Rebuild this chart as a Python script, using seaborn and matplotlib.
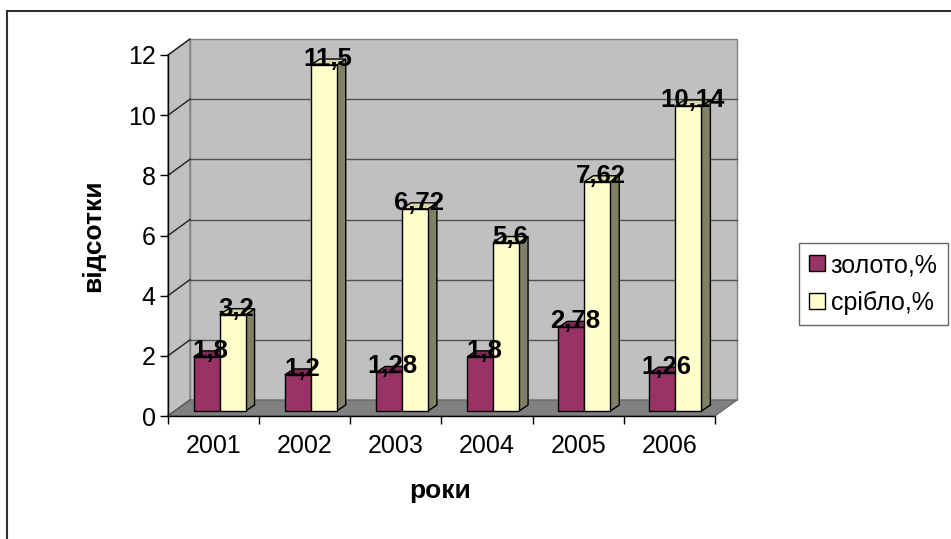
import numpy as np
import pandas as pd
import matplotlib
matplotlib.use("Agg")
import matplotlib.pyplot as plt
import seaborn as sns
from matplotlib.patches import Polygon, Patch, Rectangle
from matplotlib.colors import to_rgba

# data
years = ["2001", "2002", "2003", "2004", "2005", "2006"]
gold = [1.8, 1.2, 1.28, 1.8, 2.78, 1.26]
silver = [3.2, 11.5, 6.72, 5.6, 7.62, 10.14]
series = ["золото,%", "срібло,%"]

front_colors = ["#993366", "#FFFFCC"]
top_colors = ["#7A2952", "#D9D9AD"]
side_colors = ["#4D1A33", "#808066"]

df = pd.DataFrame({
    "рік": years * 2,
    "ряд": [series[0]] * len(years) + [series[1]] * len(years),
    "value": gold + silver,
})

plt.rcParams["font.family"] = ["Liberation Sans", "DejaVu Sans"]

W, H = 951, 539
fig = plt.figure(figsize=(W / 100, H / 100), dpi=100)
ax = fig.add_axes([168 / W, 1 - 416 / H, 547 / W, 361 / H])

sns.barplot(data=df, x="рік", y="value", hue="ряд", order=years,
            hue_order=series, palette=dict(zip(series, front_colors)),
            width=0.57, saturation=1, edgecolor="black", linewidth=1,
            legend=False, ax=ax, zorder=3)
bars = list(ax.patches)

ax.set_xlim(-0.5, 5.5)
ax.set_ylim(0, 12)
ax.set_xlabel("")
ax.set_ylabel("")
ax.set_facecolor("none")

# pixels per data unit, used for the fake 3d depth
p0 = ax.transData.transform((0, 0))
p1 = ax.transData.transform((1, 1))
ppx, ppy = p1[0] - p0[0], p1[1] - p0[1]


def off(x, y, dx, dy):
    return (x + dx / ppx, y + dy / ppy)


DX, DY = 22, 16
x0, x1 = -0.5, 5.5

# back wall, side wall and floor
ax.add_patch(Polygon([off(x0, 0, DX, DY), off(x1, 0, DX, DY), off(x1, 12, DX, DY),
                      off(x0, 12, DX, DY)], closed=True, fc="#C0C0C0",
                     ec="#808080", lw=1, zorder=0, clip_on=False))
ax.add_patch(Polygon([(x0, 0), (x0, 12), off(x0, 12, DX, DY), off(x0, 0, DX, DY)],
                     closed=True, fc="#C0C0C0", ec="#808080", lw=1, zorder=0,
                     clip_on=False))
for y in range(2, 12, 2):
    a, b = off(x0, y, DX, DY), off(x1, y, DX, DY)
    ax.plot([a[0], b[0]], [a[1], b[1]], color="#505050", lw=1, zorder=0.5,
            clip_on=False)
for y in range(0, 13, 2):
    a = off(x0, y, DX, DY)
    ax.plot([x0, a[0]], [y, a[1]], color="#202020", lw=1, zorder=0.5,
            clip_on=False)
ax.add_patch(Polygon([(x0, 0), (x1, 0), off(x1, 0, DX, DY), off(x0, 0, DX, DY)],
                     closed=True, fc="#808080", ec="#606060", lw=0.8, zorder=1,
                     clip_on=False))

# 3d faces on the bars
BX, BY = 9, 6
for p in bars:
    fc = p.get_facecolor()
    k = 0 if np.allclose(fc, to_rgba(front_colors[0])) else 1
    p.set_x(p.get_x() + 6 / ppx)
    p.set_y(p.get_y() + 5 / ppy)
    bx, by, w, h = p.get_x(), p.get_y(), p.get_width(), p.get_height()
    top = by + h
    ax.add_patch(Polygon([(bx + w, by), (bx + w, top), off(bx + w, top, BX, BY),
                          off(bx + w, by, BX, BY)], closed=True, fc=side_colors[k],
                         ec="black", lw=1, zorder=2, clip_on=False))
    ax.add_patch(Polygon([(bx, top), (bx + w, top), off(bx + w, top, BX, BY),
                          off(bx, top, BX, BY)], closed=True, fc=top_colors[k],
                         ec="black", lw=1, zorder=2, clip_on=False))
    lx, ly = off(bx + w / 2, top, 4, 6)
    ax.text(lx, ly, f"{h:g}".replace(".", ","), ha="center", va="center",
            fontsize=18.5, fontweight="bold", zorder=6)

# axes, ticks
for s in ["top", "right"]:
    ax.spines[s].set_visible(False)
for s in ["left", "bottom"]:
    ax.spines[s].set_color("black")
    ax.spines[s].set_linewidth(1)
    ax.spines[s].set_zorder(4)
ax.set_yticks(range(0, 13, 2))
ax.tick_params(axis="y", length=5.8, width=1, pad=3, labelsize=18)
ax.set_xticks(range(len(years)))
ax.set_xticklabels(years)
ax.set_xticks(np.arange(-0.5, len(years), 1), minor=True)
ax.tick_params(axis="x", which="major", length=0, pad=13, labelsize=18)
ax.tick_params(axis="x", which="minor", length=5.8, width=1)

fig.text(93 / W, 1 - 236 / H, "відсотки", rotation=90, ha="center", va="center",
         fontsize=19, fontweight="bold")
fig.text(440 / W, 1 - 498 / H, "роки", ha="center", va="baseline",
         fontsize=19, fontweight="bold")

handles = [Patch(fc=c, ec="black", lw=1) for c in front_colors]
leg = fig.legend(handles, series, loc="upper left",
                 bbox_to_anchor=(799 / W, 1 - 243 / H), fontsize=18,
                 handlelength=0.62, handleheight=0.62, handletextpad=0.25,
                 labelspacing=0.55, borderpad=0.4, borderaxespad=0,
                 frameon=True, fancybox=False, edgecolor="#404040")
leg.get_frame().set_linewidth(1)

# outer chart frame (left and top edges visible)
fig.add_artist(Rectangle((7 / W, -0.1), 1.2, 1.1 - 11 / H, transform=fig.transFigure,
                         fill=False, ec="#303030", lw=1.5, clip_on=False))

fig.savefig("out.png", dpi=100, facecolor="white")
